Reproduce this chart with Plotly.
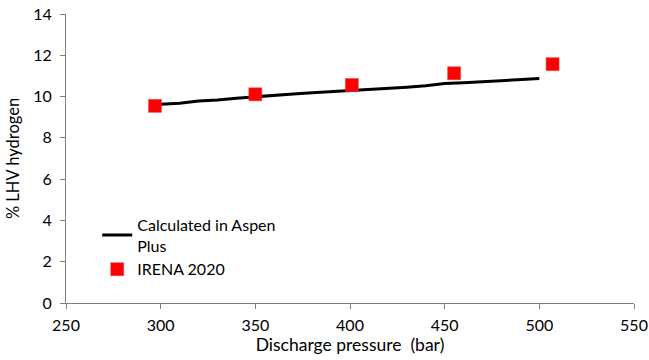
import plotly.graph_objects as go

# Calculated in Aspen Plus (line)
aspen_pressure = [300, 310, 320, 330, 340, 350, 360, 370, 380, 390, 400,
                  410, 420, 430, 440, 450, 460, 470, 480, 490, 500]
aspen_lhv = [9.63, 9.68, 9.78, 9.83, 9.92, 10.0, 10.05, 10.13, 10.18, 10.23, 10.3,
             10.35, 10.4, 10.45, 10.52, 10.63, 10.67, 10.72, 10.77, 10.82, 10.87]

# IRENA 2020 (markers)
irena_pressure = [297, 350, 401, 455, 507]
irena_lhv = [9.55, 10.11, 10.56, 11.13, 11.57]

x_ticks = [250, 300, 350, 400, 450, 500, 550]
y_ticks = [0, 2, 4, 6, 8, 10, 12, 14]

FONT = "Lato, 'Open Sans', sans-serif"

fig = go.Figure()
fig.add_trace(go.Scatter(
    x=aspen_pressure, y=aspen_lhv, mode="lines",
    name="Calculated in Aspen<br>Plus",
    line=dict(color="black", width=3),
))
fig.add_trace(go.Scatter(
    x=irena_pressure, y=irena_lhv, mode="markers",
    name="IRENA 2020",
    marker=dict(symbol="square", size=13, color="#ff0000",
                line=dict(color="#e04040", width=0.5)),
))

axis_common = dict(
    showline=True, linecolor="#7f7f7f", linewidth=1,
    ticks="outside", ticklen=5, tickcolor="#7f7f7f", tickwidth=1,
    showgrid=False, zeroline=False, automargin=False,
    tickfont=dict(family=FONT, size=16, color="black"),
)

fig.update_layout(
    width=649, height=360,
    margin=dict(l=66, r=15, t=14, b=57),
    paper_bgcolor="white", plot_bgcolor="white",
    showlegend=True,
    legend=dict(
        x=0.055, y=0.33, xanchor="left", yanchor="top",
        font=dict(family=FONT, size=16, color="black"),
        bgcolor="rgba(0,0,0,0)", tracegroupgap=0,
        itemwidth=30,
    ),
    xaxis=dict(
        range=[250, 550], tickvals=x_ticks, ticklabelstandoff=3,
        title=dict(text="Discharge pressure  (bar)", standoff=5,
                   font=dict(family=FONT, size=17.5, color="black")),
        **axis_common,
    ),
    yaxis=dict(
        range=[0, 14], tickvals=y_ticks, ticklabelstandoff=5,
        title=dict(text="% LHV hydrogen", standoff=9,
                   font=dict(family=FONT, size=16.5, color="black")),
        **axis_common,
    ),
)

fig.write_html("out.html")
